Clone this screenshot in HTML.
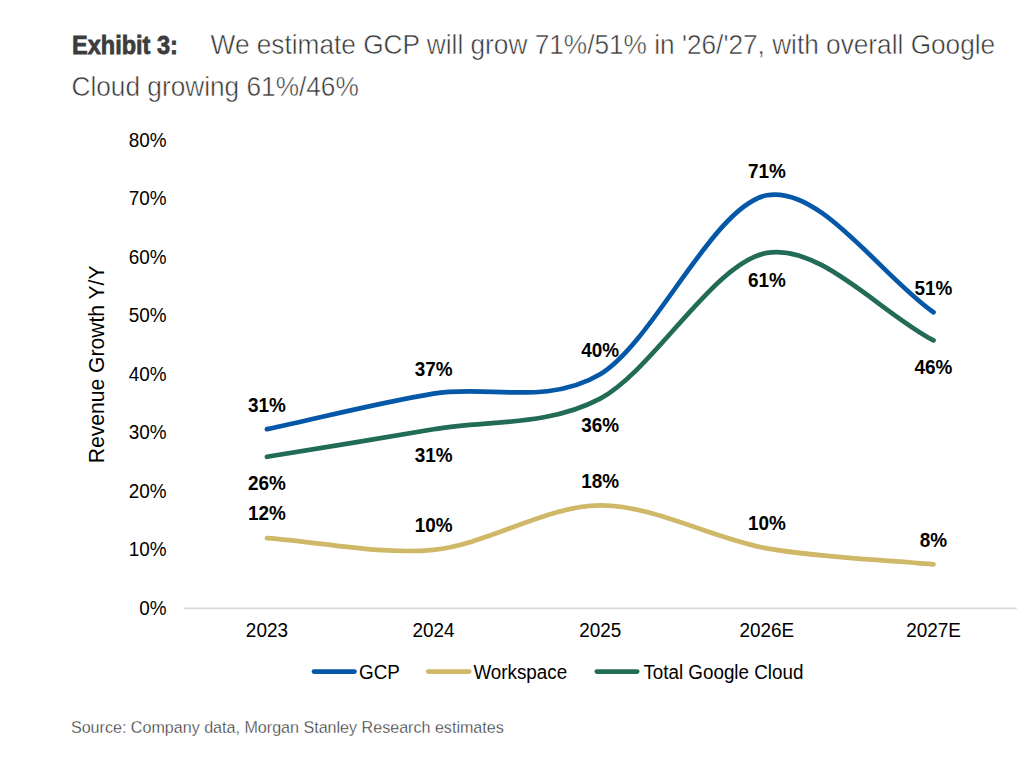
<!DOCTYPE html>
<html><head><meta charset="utf-8"><style>
html,body{margin:0;padding:0;background:#fff;width:1024px;height:757px;overflow:hidden}
svg{display:block}
text{font-family:"Liberation Sans",sans-serif}
</style></head><body>
<svg width="1024" height="757" viewBox="0 0 1024 757">
<rect width="1024" height="757" fill="#fff"/>
<text x="0" y="53.7" font-size="26.6" font-weight="bold" fill="#3d3d3d" stroke="#3d3d3d" stroke-width="0.8" transform="translate(72 0) scale(0.885 1)">Exhibit 3:</text>
<g fill="#363636" font-size="28.4" stroke="#fff" stroke-width="0.55">
<text x="0" y="54" transform="translate(210.6 0) scale(0.924 1)">We estimate GCP will grow 71%/51% in '26/'27, with overall Google</text>
<text x="0" y="95.6" transform="translate(71.5 0) scale(0.924 1)">Cloud growing 61%/46%</text>
</g>
<g fill="#000" font-size="19.7">
<text transform="translate(166.5 614.9) scale(0.96 1)" text-anchor="end">0%</text>
<text transform="translate(166.5 556.4) scale(0.96 1)" text-anchor="end">10%</text>
<text transform="translate(166.5 497.9) scale(0.96 1)" text-anchor="end">20%</text>
<text transform="translate(166.5 439.4) scale(0.96 1)" text-anchor="end">30%</text>
<text transform="translate(166.5 380.9) scale(0.96 1)" text-anchor="end">40%</text>
<text transform="translate(166.5 322.4) scale(0.96 1)" text-anchor="end">50%</text>
<text transform="translate(166.5 263.9) scale(0.96 1)" text-anchor="end">60%</text>
<text transform="translate(166.5 205.4) scale(0.96 1)" text-anchor="end">70%</text>
<text transform="translate(166.5 146.9) scale(0.96 1)" text-anchor="end">80%</text>
<text transform="translate(266.9 637) scale(0.96 1)" text-anchor="middle">2023</text>
<text transform="translate(433.6 637) scale(0.96 1)" text-anchor="middle">2024</text>
<text transform="translate(600.2 637) scale(0.96 1)" text-anchor="middle">2025</text>
<text transform="translate(766.8 637) scale(0.96 1)" text-anchor="middle">2026E</text>
<text transform="translate(933.5 637) scale(0.96 1)" text-anchor="middle">2027E</text>
</g>
<text transform="translate(104 463.3) rotate(-90) scale(0.96 1)" x="0" y="0" font-size="22" fill="#000">Revenue Growth Y/Y</text>
<line x1="183.6" y1="608.4" x2="1016.8" y2="608.4" stroke="#d9d9d9" stroke-width="1.7"/>
<g fill="none" stroke-width="4.7" stroke-linecap="round" stroke-linejoin="round">
<path d="M266.92,538.10 C320.24,541.84 380.24,555.04 433.56,549.80 C486.88,544.56 546.88,505.57 600.20,505.34 C653.52,505.11 713.52,538.88 766.84,548.34 C820.16,557.79 880.16,559.28 933.48,564.42" stroke="#CFB867"/>
<path d="M266.92,456.78 C320.24,447.99 380.24,438.60 433.56,429.29 C486.88,419.98 546.88,426.80 600.20,398.58 C653.52,370.36 713.52,262.23 766.84,252.91 C820.16,243.60 880.16,312.38 933.48,340.37" stroke="#226B56"/>
<path d="M266.92,429.17 C320.24,417.79 380.24,402.38 433.56,393.60 C486.88,384.83 546.88,406.03 600.20,374.30 C653.52,342.57 713.52,205.21 766.84,195.29 C820.16,185.37 880.16,274.85 933.48,312.29" stroke="#0558A8"/>
</g>
<g fill="#000" font-size="19.7" font-weight="bold">
<text transform="translate(266.9 411.6) scale(0.96 1)" text-anchor="middle">31%</text>
<text transform="translate(433.6 375.6) scale(0.96 1)" text-anchor="middle">37%</text>
<text transform="translate(600.2 356.7) scale(0.96 1)" text-anchor="middle">40%</text>
<text transform="translate(766.8 177.7) scale(0.96 1)" text-anchor="middle">71%</text>
<text transform="translate(933.5 294.9) scale(0.96 1)" text-anchor="middle">51%</text>
<text transform="translate(266.9 489.9) scale(0.96 1)" text-anchor="middle">26%</text>
<text transform="translate(433.6 461.7) scale(0.96 1)" text-anchor="middle">31%</text>
<text transform="translate(600.2 431.9) scale(0.96 1)" text-anchor="middle">36%</text>
<text transform="translate(766.8 286.8) scale(0.96 1)" text-anchor="middle">61%</text>
<text transform="translate(933.5 373.8) scale(0.96 1)" text-anchor="middle">46%</text>
<text transform="translate(266.9 519.7) scale(0.96 1)" text-anchor="middle">12%</text>
<text transform="translate(433.6 531.9) scale(0.96 1)" text-anchor="middle">10%</text>
<text transform="translate(600.2 487.7) scale(0.96 1)" text-anchor="middle">18%</text>
<text transform="translate(766.8 529.6) scale(0.96 1)" text-anchor="middle">10%</text>
<text transform="translate(933.5 546.9) scale(0.96 1)" text-anchor="middle">8%</text>
</g>
<g stroke-width="4.7" stroke-linecap="round">
<line x1="314" y1="671.6" x2="354.5" y2="671.6" stroke="#0558A8"/>
<line x1="428.3" y1="671.6" x2="469.2" y2="671.6" stroke="#CFB867"/>
<line x1="596.8" y1="671.6" x2="637.2" y2="671.6" stroke="#226B56"/>
</g>
<g fill="#000" font-size="19.6">
<text transform="translate(359 678.6) scale(0.96 1)">GCP</text>
<text transform="translate(473.4 678.6) scale(0.96 1)">Workspace</text>
<text transform="translate(643.4 678.6) scale(0.96 1)">Total Google Cloud</text>
</g>
<text x="0" y="733" font-size="17" fill="#383838" stroke="#fff" stroke-width="0.3" transform="translate(70.9 0) scale(0.947 1)">Source: Company data, Morgan Stanley Research estimates</text>
</svg>
</body></html>
